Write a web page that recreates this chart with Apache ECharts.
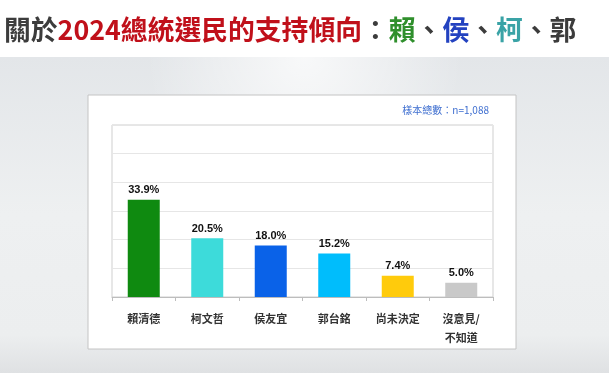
<!DOCTYPE html>
<html><head><meta charset="utf-8">
<script src="https://cdn.jsdelivr.net/npm/echarts@6/dist/echarts.min.js"></script>
<style>html,body{margin:0;padding:0;background:#fff;}#c{width:609px;height:373px;}</style>
</head><body><div id="c"></div>
<script>
const categories = ['賴清德', '柯文哲', '侯友宜', '郭台銘', '尚未決定', '沒意見/\n不知道'];
const values = [33.9, 20.5, 18.0, 15.2, 7.4, 5.0];
const barColors = ['#0f8a10', '#3ddbda', '#0a62e8', '#00bdfc', '#ffcb0c', '#c9c9c9'];
const sampleText = '樣本總數：n=1,088';

const chart = echarts.init(document.getElementById('c'), null, {renderer: 'canvas'});
const cjk = '"Noto Sans CJK TC", "Noto Sans", sans-serif';
const ts = 26.8;
chart.setOption({
  animation: false,
  backgroundColor: '#ffffff',
  title: {
    left: -1, top: 11,
    text: '{a|關於}{r|2024總統選民的支持傾向}{a|：}{g|賴}{a|、}{b|侯}{a|、}{t|柯}{a|、郭}',
    textStyle: {
      rich: {
        a: {color: '#3c3c3c', fontSize: ts, fontWeight: 'bold', fontFamily: cjk},
        r: {color: '#c0101a', fontSize: ts, fontWeight: 'bold', fontFamily: cjk},
        g: {color: '#2f8f2c', fontSize: ts, fontWeight: 'bold', fontFamily: cjk},
        b: {color: '#2342c0', fontSize: ts, fontWeight: 'bold', fontFamily: cjk},
        t: {color: '#3aa3a6', fontSize: ts, fontWeight: 'bold', fontFamily: cjk}
      }
    }
  },
  graphic: [
    {type: 'rect', z: -10, shape: {x: 0, y: 57, width: 609, height: 316},
      style: {fill: new echarts.graphic.LinearGradient(0, 0, 0, 1, [
        {offset: 0, color: '#e3e6e9'}, {offset: 0.5, color: '#eef0f1'}, {offset: 0.88, color: '#eceeef'}, {offset: 1, color: '#dfe1e3'}])}},
    {type: 'rect', z: -9, shape: {x: 0, y: 57, width: 609, height: 316},
      style: {fill: new echarts.graphic.RadialGradient(0.5, 0, 0.5, [
        {offset: 0, color: 'rgba(255,255,255,0.75)'}, {offset: 1, color: 'rgba(255,255,255,0)'}])}},
    {type: 'rect', z: -5, shape: {x: 88, y: 95, width: 428, height: 254},
      style: {fill: '#ffffff', stroke: '#c4c4c4', lineWidth: 1}},
    {type: 'text', z: 5, right: 609 - 489, top: 105,
      style: {text: sampleText, fill: '#3f6fd0', font: '10px ' + cjk}}
  ],
  grid: {left: 112, right: 116, top: 125, bottom: 76, show: true, borderColor: '#cfcfcf', borderWidth: 1, backgroundColor: 'transparent'},
  xAxis: {
    type: 'category', data: categories,
    axisLine: {lineStyle: {color: '#bdbdbd'}},
    axisTick: {show: true, length: 4, lineStyle: {color: '#bdbdbd'}},
    axisLabel: {color: '#333', fontSize: 11, fontWeight: 'bold', fontFamily: cjk, margin: 12, lineHeight: 19, interval: 0}
  },
  yAxis: {
    type: 'value', min: 0, max: 60, interval: 10,
    axisLabel: {show: false}, axisLine: {show: false}, axisTick: {show: false},
    splitLine: {lineStyle: {color: '#e6e6e6'}}
  },
  series: [{
    type: 'bar', barWidth: 32,
    data: values.map((v, i) => ({value: v, itemStyle: {color: barColors[i]}})),
    label: {show: true, position: 'top', distance: 4, formatter: p => p.value.toFixed(1) + '%',
      color: '#111', fontSize: 11, fontWeight: 'bold', fontFamily: 'Arial, "Liberation Sans", sans-serif'}
  }]
});
</script></body></html>
